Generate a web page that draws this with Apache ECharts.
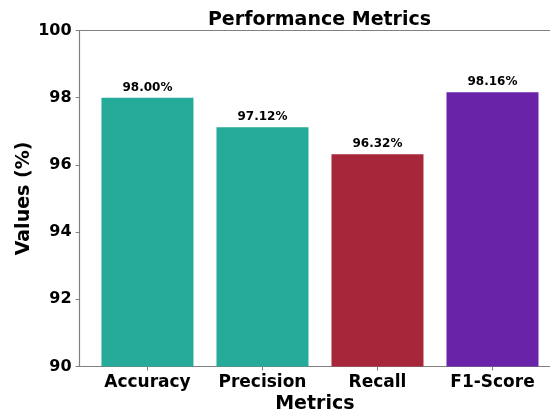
<!DOCTYPE html>
<html><head><meta charset="utf-8">
<script src="https://cdn.jsdelivr.net/npm/echarts@6/dist/echarts.min.js"></script>
<style>html,body{margin:0;padding:0;background:#fff}#c{width:550px;height:411px}</style>
</head><body><div id="c"></div>
<script>
const categories = ["Accuracy", "Precision", "Recall", "F1-Score"];
const values = [98.00, 97.12, 96.32, 98.16];
const colors = ["#26aa99", "#26aa99", "#a82639", "#6823a8"];
const yTicks = [90, 92, 94, 96, 98, 100];

const FONT = "DejaVu Sans";
const spine = {show: true, onZero: false, lineStyle: {color: '#808080', width: 1.2}};
const chart = echarts.init(document.getElementById('c'), null, {renderer: 'canvas'});
chart.setOption({
  animation: false,
  title: {
    text: "Performance Metrics", left: 314.5, top: 6, textAlign: 'center',
    textStyle: {fontFamily: FONT, fontWeight: 'bold', fontSize: 19, color: '#000'}
  },
  grid: {left: 79.6, top: 30.5, right: 0, bottom: 44.5, containLabel: false, outerBoundsMode: 'none'},
  xAxis: [{
    type: 'value', min: -0.59, max: 3.5,
    name: "Metrics", nameLocation: 'middle', nameGap: 28, nameMoveOverlap: false,
    nameTextStyle: {fontFamily: FONT, fontWeight: 'bold', fontSize: 19, color: '#000'},
    splitLine: {show: false},
    axisLine: spine,
    axisTick: {show: true, length: 4, lineStyle: {color: '#808080'}, customValues: [0, 1, 2, 3]},
    axisLabel: {
      customValues: [0, 1, 2, 3], margin: 8,
      formatter: v => categories[Math.round(v)] || '',
      fontFamily: FONT, fontWeight: 'bold', fontSize: 17, color: '#000'
    }
  }, {
    type: 'value', position: 'top', min: -0.59, max: 3.5,
    splitLine: {show: false}, axisLine: spine, axisTick: {show: false}, axisLabel: {show: false}
  }],
  yAxis: {
    type: 'value', min: 90, max: 100, interval: 2,
    name: "Values (%)", nameLocation: 'middle', nameGap: 46, nameRotate: 90, nameMoveOverlap: false,
    nameTextStyle: {fontFamily: FONT, fontWeight: 'bold', fontSize: 19, color: '#000'},
    splitLine: {show: false},
    axisLine: spine,
    axisTick: {show: true, length: 4, lineStyle: {color: '#808080'}},
    axisLabel: {margin: 8, fontFamily: FONT, fontWeight: 'bold', fontSize: 16, color: '#000',
      customValues: yTicks}
  },
  series: [{
    type: 'bar', barWidth: 92, clip: true, xAxisIndex: 0,
    data: values.map((v, i) => ({value: [i, v], itemStyle: {color: colors[i]}})),
    label: {
      show: true, position: 'top', distance: 4,
      formatter: p => p.value[1].toFixed(2) + '%',
      fontFamily: FONT, fontWeight: 'bold', fontSize: 12, color: '#000'
    }
  }]
});
</script></body></html>
